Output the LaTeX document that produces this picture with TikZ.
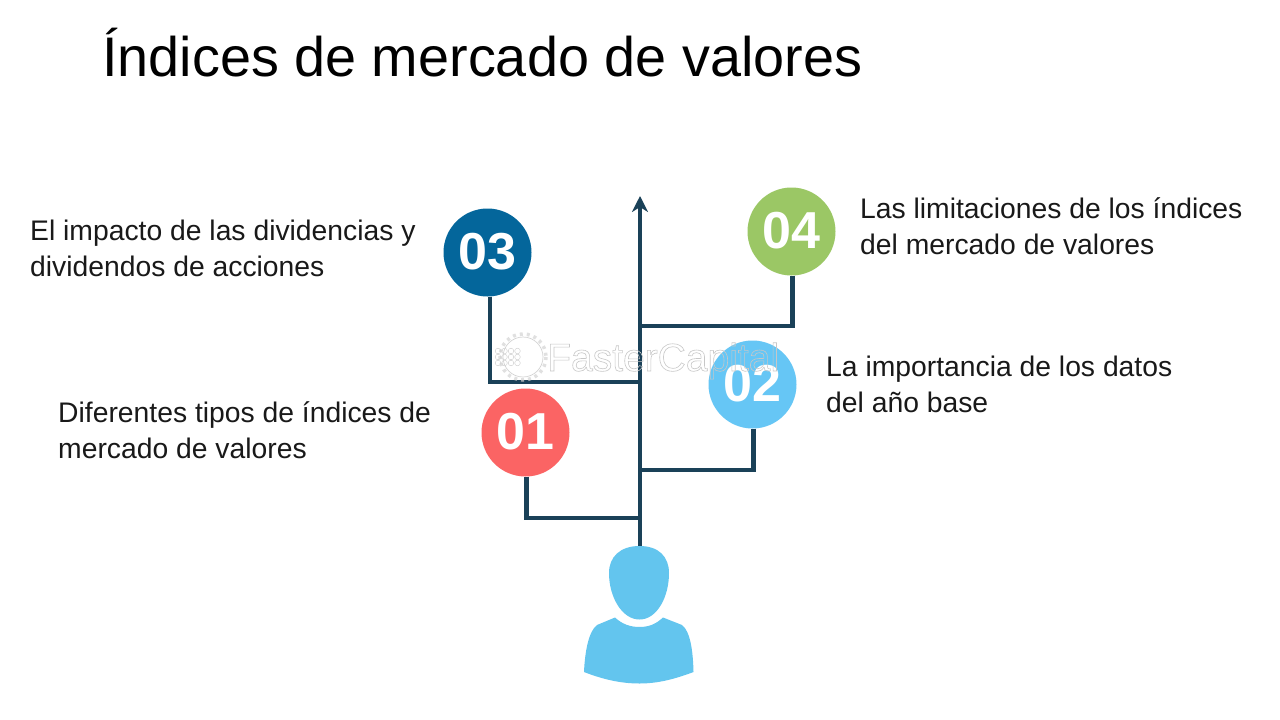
\documentclass[tikz,border=0pt]{standalone}
\usepackage{fontspec}
\setmainfont{Liberation Sans}
\definecolor{lineblue}{HTML}{1A4158}
\definecolor{c01}{HTML}{FB6464}
\definecolor{c02}{HTML}{66C6F5}
\definecolor{c03}{HTML}{04669B}
\definecolor{c04}{HTML}{9BC765}
\definecolor{person}{HTML}{63C5EE}
\definecolor{wm}{HTML}{D4D4D4}
\usetikzlibrary{arrows.meta}
\tikzset{
  numdot/.style={circle,minimum size=88pt,inner sep=0pt,text=white,font=\fontsize{52}{52}\selectfont\bfseries},
  numtext/.style={yshift=-1.5pt},
  desc/.style={anchor=west,align=left,inner sep=0pt,text=black!90,font=\fontsize{28.3}{36}\selectfont},
  conn/.style={draw=lineblue,line width=4.4pt,line join=miter},
}
\begin{document}
\begin{tikzpicture}[x=1pt,y=-1pt]
\useasboundingbox (0,0) rectangle (1280,720);
\fill[white] (0,0) rectangle (1280,720);
\node[anchor=base west,inner sep=0pt,font=\fontsize{55.8}{60}\selectfont] (title) at (102,76) {Índices de mercado de valores};

\coordinate (j1) at (640,518);
\coordinate (j2) at (640,470);
\coordinate (j3) at (640,382);
\coordinate (j4) at (640,326);
\coordinate (tip) at (640,196);
\coordinate (headtop) at (640,548);

\node[numdot,fill=c01] (c1) at (525.5,432.5) {\raisebox{1.5pt}{01}};
\node[numdot,fill=c02] (c2) at (752.5,384.5) {\raisebox{1.5pt}{02}};
\node[numdot,fill=c03] (c3) at (487.5,252.5) {\raisebox{1.5pt}{03}};
\node[numdot,fill=c04] (c4) at (791.5,231.5) {\raisebox{1.5pt}{04}};

\draw[conn] ([xshift=1pt]c1.south) |- (j1);
\draw[conn] ([xshift=1pt]c2.south) |- (j2);
\draw[conn] ([xshift=2.5pt]c3.south) |- (j3);
\draw[conn] ([xshift=1pt]c4.south) |- (j4);
\draw[conn,-{Stealth[length=16pt,width=16pt,inset=5pt]}] (headtop) -- (tip);

\node[desc] (t3) at (30,248) {El impacto de las dividencias y\\dividendos de acciones};
\node[desc] (t4) at (860,226) {Las limitaciones de los índices\\del mercado de valores};
\node[desc] (t2) at (826,384) {La importancia de los datos\\del año base};
\node[desc] (t1) at (58,430) {Diferentes tipos de índices de\\mercado de valores};

% person
\fill[person] (639.5,546) .. controls (620,546) and (609,557) .. (609,573)
  .. controls (609,597) and (622,619.5) .. (639.5,619.5)
  .. controls (657,619.5) and (669,597) .. (669,573)
  .. controls (669,557) and (659,546) .. (639.5,546) -- cycle;
\fill[person] (615,617.5) .. controls (622,624) and (630,627) .. (639.5,627)
  .. controls (649,627) and (656,624) .. (663,617.5)
  -- (682,625) .. controls (690,631) and (693,650) .. (693.5,672)
  .. controls (675,679) and (658,683.5) .. (639.5,683.5)
  .. controls (620,683.5) and (602,679) .. (584,672)
  .. controls (585,650) and (589,631) .. (597,625) -- cycle;

% watermark
\begin{scope}[draw=wm,line width=.7pt]
  \draw (523,357) circle (20);
  \draw[line width=3.5pt,dash pattern=on 3pt off 4pt,opacity=.7] (523,357) circle (23);
  \foreach \x in {0,1,2,3}{\foreach \y in {-1,0,1}{
    \draw[line width=.5pt] (498+\x*6.5,357+\y*6) circle (2.8);}}
\end{scope}
\node[anchor=base west,inner sep=0pt,text=wm,font=\fontsize{39}{39}\selectfont] (wmark) at (547,371)
  {\special{pdf:code q 1 Tr 0.6 w 0.78 G}FasterCapital\special{pdf:code Q}};
\end{tikzpicture}
\end{document}
